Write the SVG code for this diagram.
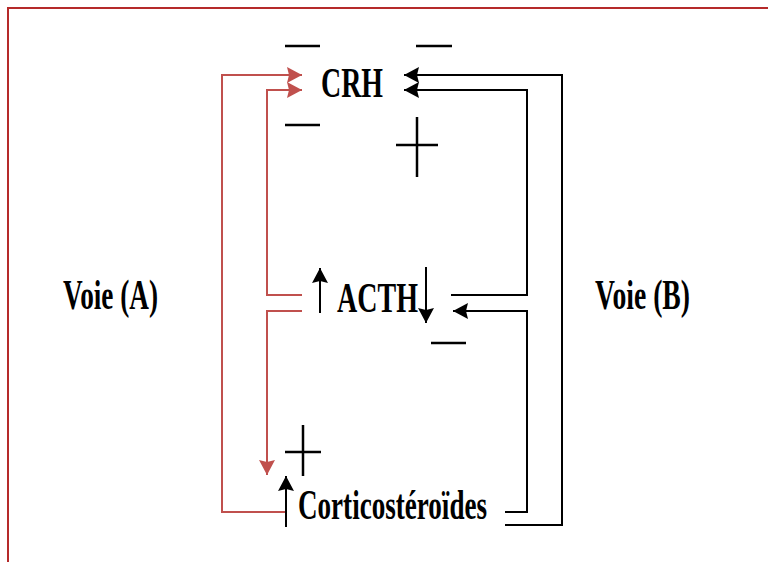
<svg xmlns="http://www.w3.org/2000/svg" width="768" height="562" viewBox="0 0 768 562">
  <defs>
    <marker id="ahRed" markerUnits="userSpaceOnUse" markerWidth="18" markerHeight="18" refX="15" refY="9" orient="auto">
      <path d="M0,1 L15,9 L0,17 L2,9 z" fill="#c0504d"/>
    </marker>
    <marker id="ahBlack" markerUnits="userSpaceOnUse" markerWidth="18" markerHeight="18" refX="15" refY="9" orient="auto">
      <path d="M0,1 L15,9 L0,17 L2,9 z" fill="#000"/>
    </marker>
  </defs>
  <style>
    .lbl { font-family: "Liberation Serif", "Times New Roman", serif; font-weight: bold; font-size: 42px; fill: #000; }
    .red { fill: none; stroke: #c0504d; stroke-width: 2; }
    .blk { fill: none; stroke: #000; stroke-width: 2; }
    .sign { stroke: #000; stroke-width: 2.5; fill: none; }
  </style>
  <rect width="768" height="562" fill="#fff"/>
  <path d="M8,562 V8 H768" fill="none" stroke="#b52a2a" stroke-width="2"/>

  <g id="node-crh"><text class="lbl" x="321" y="97" textLength="62" lengthAdjust="spacingAndGlyphs">CRH</text></g>
  <g id="node-acth"><text class="lbl" x="337" y="312" textLength="81" lengthAdjust="spacingAndGlyphs">ACTH</text></g>
  <g id="node-cortico"><text class="lbl" x="298" y="519" textLength="189" lengthAdjust="spacingAndGlyphs">Corticostéroïdes</text></g>
  <g id="label-voie-a"><text class="lbl" x="63" y="309" textLength="95" lengthAdjust="spacingAndGlyphs">Voie (A)</text></g>
  <g id="label-voie-b"><text class="lbl" x="595" y="309" textLength="95" lengthAdjust="spacingAndGlyphs">Voie (B)</text></g>

  <g id="signs">
    <line class="sign" x1="285" y1="46" x2="320" y2="46"/>
    <line class="sign" x1="416" y1="46" x2="452" y2="46"/>
    <line class="sign" x1="285" y1="125" x2="320" y2="125"/>
    <line class="sign" x1="417" y1="117" x2="417" y2="177"/>
    <line class="sign" x1="396" y1="145" x2="438" y2="145"/>
    <line class="sign" x1="431" y1="343" x2="466" y2="343"/>
    <line class="sign" x1="303" y1="425" x2="303" y2="476"/>
    <line class="sign" x1="285" y1="452" x2="321" y2="452"/>
  </g>

  <g id="connectors">
    <path class="red" d="M285,512 H222 V75 H302" marker-end="url(#ahRed)"/>
    <path class="red" d="M302,295 H267 V90 H302" marker-end="url(#ahRed)"/>
    <path class="red" d="M302,311 H267 V475" marker-end="url(#ahRed)"/>
    <path class="blk" d="M505,525 H562 V75 H404" marker-end="url(#ahBlack)"/>
    <path class="blk" d="M451,295 H527 V90 H404" marker-end="url(#ahBlack)"/>
    <path class="blk" d="M505,512 H527 V311 H453" marker-end="url(#ahBlack)"/>
    <path class="blk" d="M320,313 V268" marker-end="url(#ahBlack)"/>
    <path class="blk" d="M426,267 V323" marker-end="url(#ahBlack)"/>
    <path class="blk" d="M286,527 V476" marker-end="url(#ahBlack)"/>
  </g>
</svg>
